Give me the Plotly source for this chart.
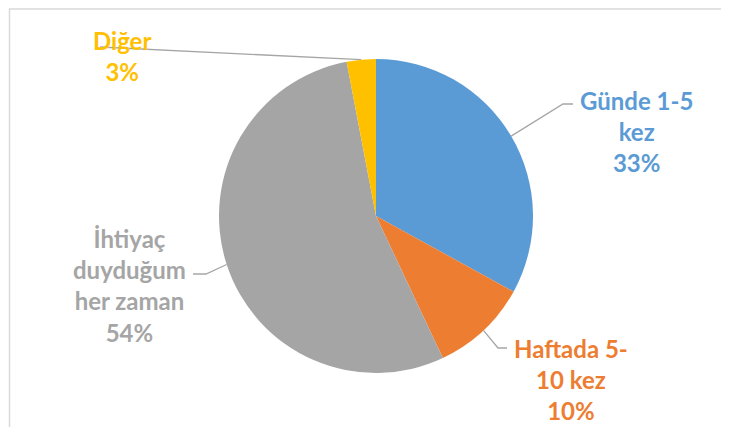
import math
import plotly.graph_objects as go

# ---- data ----
categories = ["Günde 1-5<br>kez", "Haftada 5-<br>10 kez", "İhtiyaç<br>duyduğum<br>her zaman", "Diğer"]
values = [33, 10, 54, 3]
colors = ["#5B9BD5", "#ED7D31", "#A5A5A5", "#FFC000"]

# ---- layout constants (pixels in the 729x427 window; page body has an 8px margin) ----
OFF = 8
W, H = 729 - OFF, 427 - OFF
CX, CY, R = 376 - OFF, 216 - OFF, 157
label_centers = [(636, 131), (571, 379), (129, 285), (122, 56)]
elbows = [((563, 104), (573, 104)), ((498, 348), (507, 348)), ((206, 274), (193, 274)), ((100, 47), (100, 47))]


def px(x):
    return (x - OFF - CX) / R


def py(y):
    return (CY - (y - OFF)) / R


fig = go.Figure()
fig.add_trace(go.Pie(
    labels=[c.replace("<br>", " ") for c in categories], values=values, sort=False,
    direction="clockwise", rotation=0,
    marker=dict(colors=colors, line=dict(width=0)),
    textinfo="none", hoverinfo="label+percent", showlegend=False,
    domain=dict(x=[(CX - R) / W, (CX + R) / W], y=[(H - CY - R) / H, (H - CY + R) / H]),
))

total = sum(values)
cum = 0
annotations = []
for cat, v, col, lc, (e1, e2) in zip(categories, values, colors, label_centers, elbows):
    mid = (cum + v / 2) / total * 2 * math.pi
    cum += v
    sx, sy = math.sin(mid), math.cos(mid)
    fig.add_trace(go.Scatter(
        x=[sx, px(e1[0]), px(e2[0])], y=[sy, py(e1[1]), py(e2[1])],
        mode="lines", line=dict(color="#A6A6A6", width=1.3),
        hoverinfo="skip", showlegend=False, cliponaxis=False,
    ))
    annotations.append(dict(
        x=px(lc[0]), y=py(lc[1]), xref="x", yref="y", showarrow=False,
        text=f"{cat}<br>{v}%", align="center", xanchor="center", yanchor="middle",
        font=dict(family="Lato", size=24, color=col, weight="bold"),
    ))

top = 1 - 1.0 / H
fig.update_layout(
    width=W, height=H, margin=dict(l=0, r=0, t=0, b=0),
    paper_bgcolor="white", plot_bgcolor="rgba(0,0,0,0)",
    xaxis=dict(domain=[0, 1], range=[-CX / R, (W - CX) / R], visible=False, fixedrange=True),
    yaxis=dict(domain=[0, 1], range=[(CY - H) / R, CY / R], visible=False, fixedrange=True),
    annotations=annotations,
    shapes=[dict(type="path", xref="paper", yref="paper",
                 path=f"M {(9.5 - OFF) / W} -0.05 L {(9.5 - OFF) / W} {top} L 1.05 {top}",
                 line=dict(color="#D9D9D9", width=1.5))],
)

fig.write_html("out.html")
